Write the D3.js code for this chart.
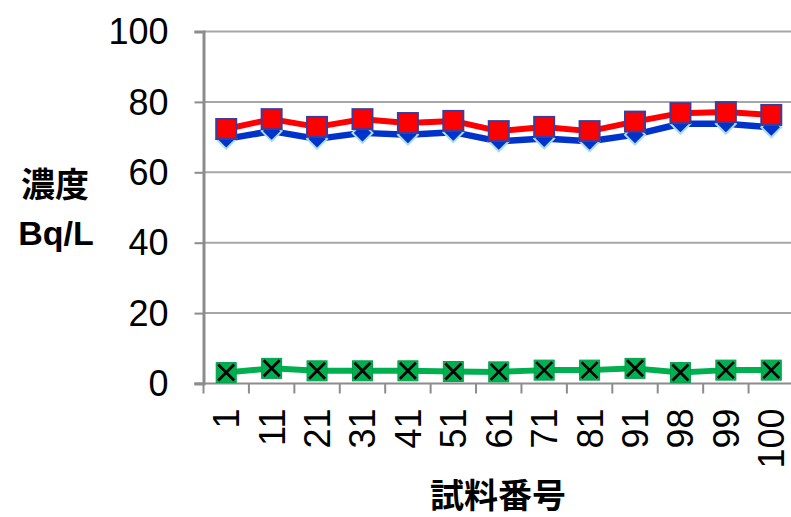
<!DOCTYPE html>
<html>
<head>
<meta charset="utf-8">
<script src="https://cdn.jsdelivr.net/npm/d3@7"></script>
<style>
  html, body { margin: 0; padding: 0; background: #fff; }
  svg { display: block; }
</style>
</head>
<body>
<svg id="chart" width="791" height="517"></svg>
<script>
// Sample numbers along the x axis
const categories = ["1", "11", "21", "31", "41", "51", "61", "71", "81", "91", "98", "99", "100"];

// Concentration (Bq/L) per sample, three series
const seriesRed   = [72.3, 75.1, 72.9, 75.1, 74.0, 74.6, 71.7, 72.9, 71.7, 74.4, 76.8, 77.1, 76.3];
const seriesBlue  = [69.5, 71.7, 69.5, 71.2, 70.7, 71.4, 68.8, 69.6, 68.8, 70.7, 73.8, 73.8, 72.8];
const seriesGreen = [3.1, 4.3, 3.6, 3.6, 3.6, 3.4, 3.3, 3.8, 3.8, 4.3, 3.1, 3.8, 3.8];

const yTicks = [0, 20, 40, 60, 80, 100];

const svg = d3.select("#chart");
const plot = { left: 203.5, right: 794, top: 31.5, bottom: 383.5 };

const x = d3.scaleBand().domain(categories).range([plot.left, plot.right]).padding(0);
const y = d3.scaleLinear().domain([0, 100]).range([plot.bottom, plot.top]);
const cx = c => x(c) + x.bandwidth() / 2;

const gridColor = "#a6a6a6";
const axisColor = "#8c8c8c";
const labelFont = "'Liberation Sans', Arial, sans-serif";
const cjkFont = "'Noto Sans CJK JP', 'Liberation Sans', sans-serif";

// Horizontal gridlines
svg.append("g")
  .selectAll("line")
  .data(yTicks.filter(t => t > 0))
  .join("line")
  .attr("x1", plot.left).attr("x2", plot.right)
  .attr("y1", d => y(d)).attr("y2", d => y(d))
  .attr("stroke", gridColor).attr("stroke-width", 2);

// Y axis
const yAxis = svg.append("g")
  .attr("transform", `translate(${plot.left},0)`)
  .call(d3.axisLeft(y).tickValues(yTicks).tickSize(9).tickPadding(26).tickFormat(d3.format("d")));
yAxis.select(".domain").attr("stroke", axisColor).attr("stroke-width", 3);
yAxis.selectAll(".tick line").attr("stroke", axisColor).attr("stroke-width", 2);
yAxis.selectAll(".tick text")
  .attr("font-family", labelFont).attr("font-size", 36).attr("fill", "#000")
  .attr("dy", "0.34em");

// X axis (ticks at category boundaries)
const xg = svg.append("g");
xg.append("line")
  .attr("x1", plot.left - 9).attr("x2", plot.right)
  .attr("y1", plot.bottom).attr("y2", plot.bottom)
  .attr("stroke", axisColor).attr("stroke-width", 2);
const bounds = categories.map(c => x(c)).concat([plot.right]);
xg.selectAll("line.xt")
  .data(bounds)
  .join("line")
  .attr("class", "xt")
  .attr("x1", d => d).attr("x2", d => d)
  .attr("y1", plot.bottom).attr("y2", plot.bottom + 10)
  .attr("stroke", axisColor).attr("stroke-width", 2);
xg.selectAll("text")
  .data(categories)
  .join("text")
  .attr("transform", d => `translate(${cx(d)},${plot.bottom + 25}) rotate(-90)`)
  .attr("text-anchor", "end")
  .attr("dy", "0.36em")
  .attr("font-family", labelFont).attr("font-size", 36).attr("fill", "#000")
  .text(d => d);

// Axis titles
const yTitle = svg.append("text")
  .attr("text-anchor", "middle")
  .attr("font-weight", "bold").attr("fill", "#000");
yTitle.append("tspan").attr("x", 55).attr("y", 197)
  .attr("font-family", cjkFont).attr("font-size", 34).text("濃度");
yTitle.append("tspan").attr("x", 56).attr("y", 245)
  .attr("font-family", labelFont).attr("font-size", 34).text("Bq/L");

svg.append("text")
  .attr("x", 498).attr("y", 508)
  .attr("text-anchor", "middle")
  .attr("font-family", cjkFont).attr("font-size", 34).attr("font-weight", "bold")
  .attr("fill", "#000")
  .text("試料番号");

const line = d3.line().x((d, i) => cx(categories[i])).y(d => y(d));

// Green series: squares with a cross
svg.append("path").datum(seriesGreen)
  .attr("d", line).attr("fill", "none")
  .attr("stroke", "#00b050").attr("stroke-width", 6).attr("stroke-linejoin", "round");
const gm = svg.append("g").selectAll("g")
  .data(seriesGreen).join("g")
  .attr("transform", (d, i) => `translate(${cx(categories[i])},${y(d)})`);
gm.append("rect").attr("x", -10).attr("y", -10).attr("width", 20).attr("height", 20)
  .attr("fill", "#00b050").attr("stroke", "#00a048").attr("stroke-width", 1);
gm.append("path").attr("d", "M-8,-8L8,8M8,-8L-8,8")
  .attr("stroke", "#000").attr("stroke-width", 2.8);

// Blue series: diamonds
svg.append("path").datum(seriesBlue)
  .attr("d", line).attr("fill", "none")
  .attr("stroke", "#0033cc").attr("stroke-width", 6.5).attr("stroke-linejoin", "round");
svg.append("g").selectAll("path")
  .data(seriesBlue).join("path")
  .attr("transform", (d, i) => `translate(${cx(categories[i])},${y(d)})`)
  .attr("d", "M0,-10L10,0L0,10L-10,0Z")
  .attr("fill", "#0033cc").attr("stroke", "#a8dce6").attr("stroke-width", 2);

// Red series: squares
svg.append("path").datum(seriesRed)
  .attr("d", line).attr("fill", "none")
  .attr("stroke", "#ff0000").attr("stroke-width", 6).attr("stroke-linejoin", "round");
svg.append("g").selectAll("rect")
  .data(seriesRed).join("rect")
  .attr("x", (d, i) => cx(categories[i]) - 10)
  .attr("y", d => y(d) - 10)
  .attr("width", 20).attr("height", 20)
  .attr("fill", "#ff0000").attr("stroke", "#3c3c9c").attr("stroke-width", 2);
</script>
</body>
</html>
